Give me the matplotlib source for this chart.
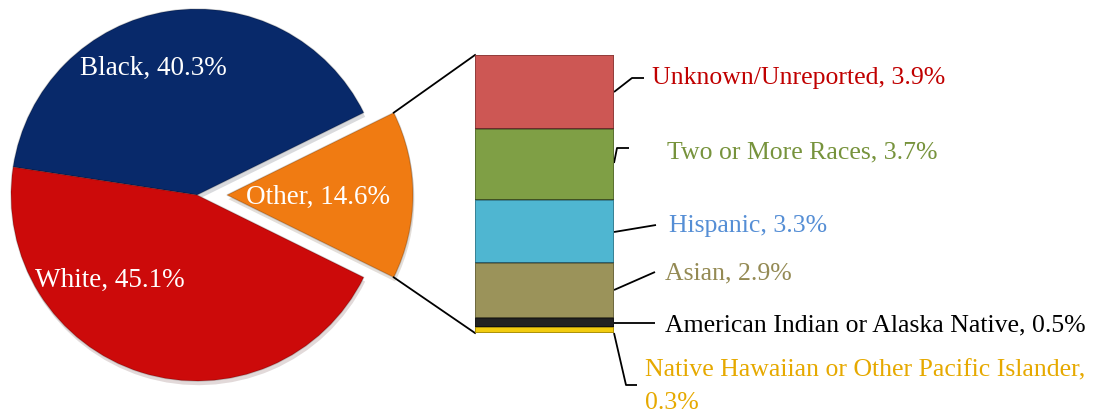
import matplotlib
matplotlib.use("Agg")
import matplotlib.pyplot as plt
import matplotlib.patheffects as pe
import numpy as np

# main pie
pie_labels = ["Other", "Black", "White"]
pie_values = [14.6, 40.3, 45.1]
pie_colors = ["#F07B12", "#08296A", "#CC0A0A"]

# breakdown of "Other" (top to bottom in the bar)
bar_labels = ["Unknown/Unreported", "Two or More Races", "Hispanic", "Asian",
              "American Indian or Alaska Native",
              "Native Hawaiian or Other Pacific Islander,\n"]
bar_values = [3.9, 3.7, 3.3, 2.9, 0.5, 0.3]
bar_colors = ["#CD5754", "#7F9F45", "#4FB6D1", "#9B935A", "#222222", "#F2CC10"]
text_colors = ["#C00000", "#77933C", "#558ED5", "#948A54", "#000000", "#E6A900"]

W, H = 1110, 416
plt.rcParams['font.family'] = ['Liberation Serif', 'DejaVu Serif']

fig = plt.figure(figsize=(W / 100, H / 100), dpi=100)
ax = fig.add_axes([0, 0, 1, 1])

# pie drawn in pixel coords, y up
cx, cy, r = 197, 221, 186
explode_px = 30
half = pie_values[0] / 100 * 360 / 2
wedges, _ = ax.pie(pie_values, radius=r, center=(cx, cy), startangle=-half,
                   colors=pie_colors, explode=[explode_px, 0, 0],
                   counterclock=True,
                   wedgeprops=dict(edgecolor="#00000030", linewidth=1))
for w in wedges:
    w.set_path_effects([pe.SimplePatchShadow(offset=(1, -3), alpha=0.15), pe.Normal()])

ax.set_xlim(0, W)
ax.set_ylim(0, H)
ax.set_aspect("equal")
ax.axis("off")

pie_fs = 19.5
ax.text(80, 416 - 68, "Black, %.1f%%" % pie_values[1], color="white", fontsize=pie_fs, va="center")
ax.text(246, 416 - 197, "Other, %.1f%%" % pie_values[0], color="white", fontsize=pie_fs, va="center")
ax.text(35, 416 - 280, "White, %.1f%%" % pie_values[2], color="white", fontsize=pie_fs, va="center")

# stacked bar in its own axes
bx0, bx1, by_top, by_bot = 475, 614, 55, 333
bax = fig.add_axes([bx0 / W, (H - by_bot) / H, (bx1 - bx0) / W, (by_bot - by_top) / H])
total = sum(bar_values)
bottoms = total - np.cumsum(bar_values)
bars = bax.bar(0, bar_values, bottom=bottoms, width=1, color=bar_colors,
               edgecolor="#00000055", linewidth=1.2)
for b in bars:
    b.set_path_effects([pe.SimplePatchShadow(offset=(1, -3), alpha=0.15), pe.Normal()])
bax.set_xlim(-0.5, 0.5)
bax.set_ylim(0, total)
bax.axis("off")

# connector lines from the exploded slice to the bar
ocx = cx + explode_px
a = np.deg2rad(half)
px = ocx + r * np.cos(a)
ax.plot([px, bx0], [cy + r * np.sin(a), H - by_top], color="black", lw=1.3)
ax.plot([px, bx0], [cy - r * np.sin(a), H - by_bot], color="black", lw=1.3)

# labels with leader lines (pixel coords, image y)
leaders = [
    [(614, 92), (632, 78), (644, 78)],
    [(614, 163), (617, 148), (629, 148)],
    [(614, 232), (656, 225)],
    [(614, 290), (655, 272)],
    [(614, 323), (655, 323)],
    [(614, 333), (626, 385), (637, 385)],
]
label_pos = [(652, 78), (667, 152), (669, 226), (665, 273), (665, 325), (645, 387)]
lab_fs = 18.5
for i in range(len(bar_labels)):
    pts = np.array(leaders[i], dtype=float)
    ax.plot(pts[:, 0], H - pts[:, 1], color="black", lw=1.3, solid_capstyle="butt")
    txt = "%s, %.1f%%" % (bar_labels[i], bar_values[i])
    if bar_labels[i].endswith("\n"):
        txt = bar_labels[i] + "%.1f%%" % bar_values[i]
    ax.text(label_pos[i][0], H - label_pos[i][1], txt, color=text_colors[i],
            fontsize=lab_fs, va="center", linespacing=1.6)

fig.savefig("out.png", dpi=100)
